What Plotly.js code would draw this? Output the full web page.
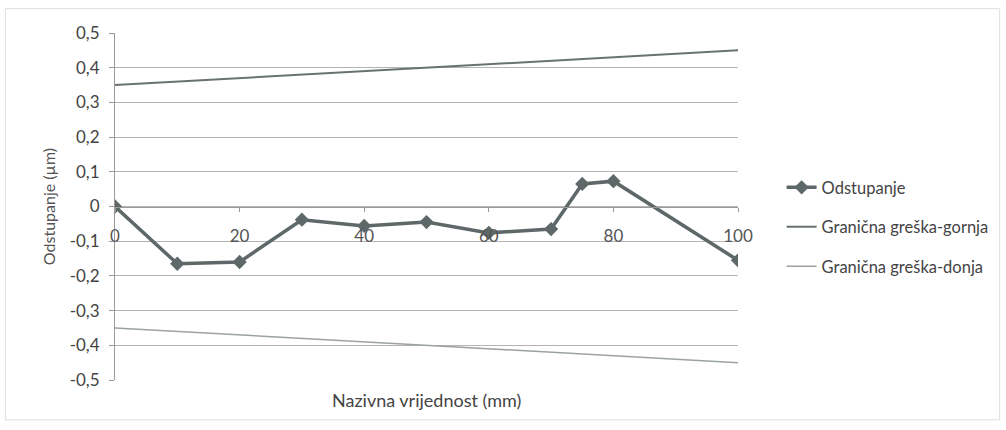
<!DOCTYPE html>
<html>
<head>
<meta charset="utf-8">
<script src="https://cdn.plot.ly/plotly-3.0.1.min.js"></script>
<style>html,body{margin:0;padding:0;background:#fff;}#chart{width:1006px;height:430px;}</style>
</head>
<body>
<div id="chart"></div>
<script>
// Data
var xMeasured = [0, 10, 20, 30, 40, 50, 60, 70, 75, 80, 100];
var odstupanje = [0, -0.165, -0.16, -0.038, -0.056, -0.045, -0.076, -0.065, 0.065, 0.073, -0.155];
var xLimits = [0, 100];
var gornja = [0.35, 0.45];
var donja = [-0.35, -0.45];
var xTicks = [0, 20, 40, 60, 80, 100];
var yTicks = [-0.5, -0.4, -0.3, -0.2, -0.1, 0, 0.1, 0.2, 0.3, 0.4, 0.5];
var yTickText = ['-0,5','-0,4','-0,3','-0,2','-0,1','0','0,1','0,2','0,3','0,4','0,5'];

var font = 'Lato, "Open Sans", sans-serif';
var traces = [
  {x: xMeasured, y: odstupanje, name: 'Odstupanje', mode: 'lines+markers',
   line: {color: '#5e6868', width: 3.5}, marker: {symbol: 'diamond', size: 11, color: '#5e6868'},
   legendgroup: 'a'},
  {x: xLimits, y: gornja, name: 'Granična greška-gornja', mode: 'lines',
   line: {color: '#687272', width: 2}, legendgroup: 'b'},
  {x: xLimits, y: donja, name: 'Granična greška-donja', mode: 'lines',
   line: {color: '#9ba2a2', width: 1.5}, legendgroup: 'c'}
];
var layout = {
  width: 1006, height: 430,
  margin: {l: 115, r: 266, t: 33, b: 50},
  paper_bgcolor: '#ffffff', plot_bgcolor: '#ffffff',
  font: {family: font, color: '#444', size: 14},
  showlegend: true,
  legend: {x: 1.07, y: 0.605, xanchor: 'left', yanchor: 'top', tracegroupgap: 15,
           font: {family: font, size: 16.5, color: '#444'}, bgcolor: 'rgba(0,0,0,0)'},
  xaxis: {range: [0, 100], tickvals: xTicks, ticktext: xTicks.map(String),
          showgrid: false, zeroline: false, showline: true, linecolor: '#9a9a9a', linewidth: 1,
          anchor: 'free', position: 0.5, ticks: 'outside', ticklen: 4, tickcolor: '#9a9a9a',
          ticklabelstandoff: 10,
          tickfont: {family: font, size: 17, color: '#555'}},
  yaxis: {range: [-0.5, 0.5], tickvals: yTicks, ticktext: yTickText,
          showgrid: true, gridcolor: '#b4b4b4', gridwidth: 1, zeroline: false,
          showline: true, linecolor: '#9a9a9a', ticks: 'outside', ticklen: 5, tickcolor: '#9a9a9a',
          ticklabelstandoff: 6,
          tickfont: {family: font, size: 17, color: '#444'},
          title: {text: 'Odstupanje (µm)', font: {family: font, size: 16, color: '#555'}, standoff: 10}},
  annotations: [
    {xref: 'paper', yref: 'paper', x: 0.5, y: -0.02, xanchor: 'center', yanchor: 'top',
     text: 'Nazivna vrijednost (mm)', showarrow: false,
     font: {family: font, size: 18, color: '#444'}}
  ],
  shapes: [
    {type: 'rect', xref: 'paper', yref: 'paper', x0: -0.176, x1: 1.42, y0: -0.115, y1: 1.07,
     line: {color: '#dddddd', width: 1}}
  ]
};
Plotly.newPlot('chart', traces, layout, {displayModeBar: false, staticPlot: true});
</script>
</body>
</html>
